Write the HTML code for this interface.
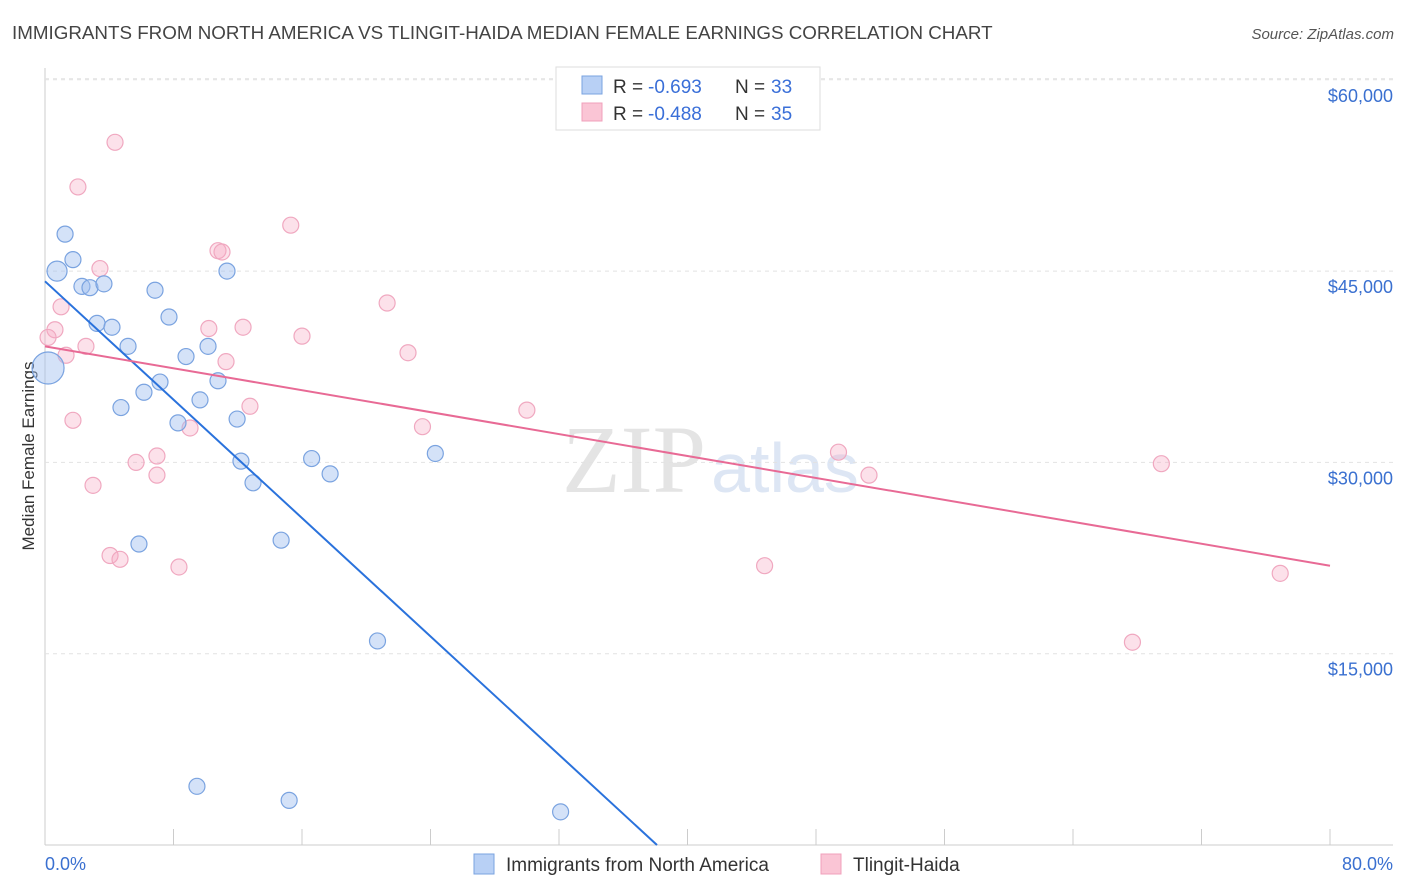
<!DOCTYPE html>
<html><head><meta charset="utf-8"><style>
body{margin:0;background:#fff;font-family:"Liberation Sans",sans-serif}
svg{display:block}
</style></head><body>
<svg id="c" width="1406" height="892">
<text x="12" y="39" font-size="18.8" fill="#444">IMMIGRANTS FROM NORTH AMERICA VS TLINGIT-HAIDA MEDIAN FEMALE EARNINGS CORRELATION CHART</text>
<text x="1394" y="39" font-size="15" fill="#555" font-style="italic" text-anchor="end">Source: ZipAtlas.com</text>
<text x="634" y="492" font-size="96" fill="#e4e4e4" font-family="Liberation Serif" text-anchor="middle">ZIP</text>
<text x="785" y="492" font-size="70" fill="#dde6f4" text-anchor="middle">atlas</text>
<text transform="translate(34,456) rotate(-90)" font-size="17" fill="#333" text-anchor="middle">Median Female Earnings</text>
<g id="grid"></g><g id="marks"></g>
<g>
<rect x="556" y="67" width="264" height="63" fill="#fff" stroke="#ddd"/>
<rect x="582" y="76" width="20" height="18" fill="#b8d0f5" stroke="#7aa3e0"/>
<rect x="582" y="103" width="20" height="18" fill="#fac5d5" stroke="#f0a0bb"/>
<text x="613" y="93" font-size="19" fill="#333">R =</text>
<text x="648" y="93" font-size="19" fill="#3a6fd8">-0.693</text>
<text x="735" y="93" font-size="19" fill="#333">N =</text>
<text x="771" y="93" font-size="19" fill="#3a6fd8">33</text>
<text x="613" y="120" font-size="19" fill="#333">R =</text>
<text x="648" y="120" font-size="19" fill="#3a6fd8">-0.488</text>
<text x="735" y="120" font-size="19" fill="#333">N =</text>
<text x="771" y="120" font-size="19" fill="#3a6fd8">35</text>
</g>
<g>
<rect x="474" y="854" width="20" height="20" fill="#b8d0f5" stroke="#7aa3e0"/>
<text x="506" y="871" font-size="19" fill="#333">Immigrants from North America</text>
<rect x="821" y="854" width="20" height="20" fill="#fac5d5" stroke="#f0a0bb"/>
<text x="853" y="871" font-size="19" fill="#333">Tlingit-Haida</text>
</g>
</svg>
<script>
const yTicks=[15000,30000,45000,60000];
const yTickLabels=["$15,000","$30,000","$45,000","$60,000"];
const xTicks=[0,8,16,24,32,40,48,56,64,72,80];
const xEndLabels=["0.0%","80.0%"];
const blueX=[1.25,0.75,1.74,2.3,2.8,3.67,3.24,4.17,5.17,6.85,7.72,0.19,7.16,6.16,4.73,8.78,10.15,9.65,10.77,11.33,8.28,11.96,12.2,12.95,16.6,17.75,24.3,14.7,5.85,20.7,9.46,15.2,32.1];
const blueY=[47.9,45.0,45.9,43.8,43.7,44.0,40.9,40.6,39.1,43.5,41.4,37.4,36.3,35.5,34.3,38.3,39.1,34.9,36.4,45.0,33.1,33.4,30.1,28.4,30.3,29.1,30.7,23.9,23.6,16.0,4.6,3.5,2.6];
const blueR=[8,10,8,8,8,8,8,8,8,8,8,16,8,8,8,8,8,8,8,8,8,8,8,8,8,8,8,8,8,8,8,8,8];
const pinkX=[4.36,2.05,15.3,10.77,11.02,3.42,1.0,0.62,0.19,1.31,2.55,10.2,12.33,16.0,21.3,22.6,11.27,12.76,9.03,1.74,6.97,5.67,6.97,2.99,23.5,30.0,4.05,4.67,8.34,49.4,51.3,69.5,44.8,76.9,67.7];
const pinkY=[55.1,51.6,48.6,46.6,46.5,45.2,42.2,40.4,39.8,38.4,39.1,40.5,40.6,39.9,42.5,38.6,37.9,34.4,32.7,33.3,30.5,30.0,29.0,28.2,32.8,34.1,22.7,22.4,21.8,30.8,29.0,29.9,21.9,21.3,15.9];
const blueTrendX=[0,38.1];const blueTrendY=[44.2,0];
const pinkTrendX=[0,80];const pinkTrendY=[39.1,21.9];
const NS="http://www.w3.org/2000/svg";
const sx=v=>45+v/80*1285;
const sy=v=>845-v/15000*191.3;
const syk=v=>sy(v*1000);
function mk(t,a,p){const e=document.createElementNS(NS,t);for(const k in a)e.setAttribute(k,a[k]);p.appendChild(e);return e;}
const g=document.getElementById('grid'),m=document.getElementById('marks');
let e=mk('line',{x1:45,y1:68,x2:45,y2:845,stroke:'#ccc'},g);


e=mk('line',{x1:45,y1:845,x2:1393,y2:845,stroke:'#ccc'},g);


e=mk('line',{x1:45,y1:sy(60000)-1,x2:1393,y2:sy(60000)-1,stroke:'#e2e2e2','stroke-dasharray':'4,4'},g);
yTicks.forEach((v,i)=>{
 const l=mk('line',{x1:45,y1:sy(v),x2:1393,y2:sy(v),stroke:'#e2e2e2','stroke-dasharray':'4,4'},g);
 
 
 const t=mk('text',{x:1393,y:sy(v)+22,'font-size':18,fill:'#3a70d0','text-anchor':'end'},g);
 t.textContent=yTickLabels[i];
 
 
});
xTicks.forEach(v=>{
 const l=mk('line',{x1:sx(v),y1:829,x2:sx(v),y2:845,stroke:'#ccc'},g);
 
 
});
[[0,'start',45],[80,'end',1393]].forEach((d,i)=>{
 const t=mk('text',{x:d[2],y:870,'font-size':18,fill:'#3a70d0','text-anchor':d[1]},g);
 t.textContent=xEndLabels[i];
 
 
});
pinkX.forEach((x,i)=>{
 const c=mk('circle',{cx:sx(x),cy:syk(pinkY[i]),r:8,fill:'rgba(245,170,195,0.35)',stroke:'#f0a8c0','stroke-width':1.2},m);
 
 
});
blueX.forEach((x,i)=>{
 const c=mk('circle',{cx:sx(x),cy:syk(blueY[i]),r:blueR[i],fill:'rgba(160,190,240,0.45)',stroke:'#7aa3e0','stroke-width':1.2},m);
 
 
});
e=mk('line',{x1:sx(blueTrendX[0]),y1:syk(blueTrendY[0]),x2:sx(blueTrendX[1]),y2:syk(blueTrendY[1]),stroke:'#2a72dc','stroke-width':2},m);


e=mk('line',{x1:sx(pinkTrendX[0]),y1:syk(pinkTrendY[0]),x2:sx(pinkTrendX[1]),y2:syk(pinkTrendY[1]),stroke:'#e86a95','stroke-width':2},m);


</script>
</body></html>
